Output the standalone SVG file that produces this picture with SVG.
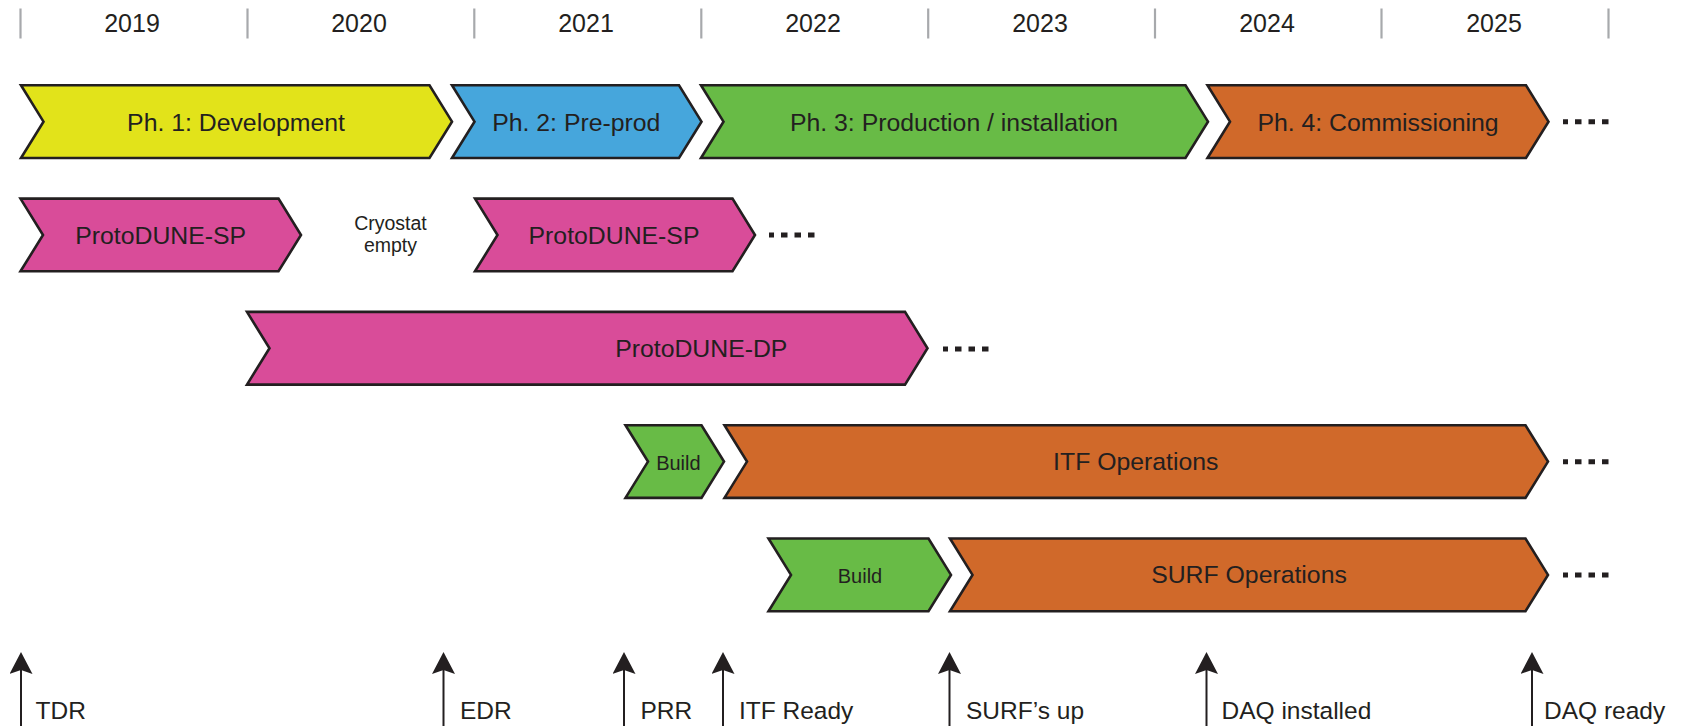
<svg xmlns="http://www.w3.org/2000/svg" width="1683" height="726" viewBox="0 0 1683 726">
  <style>
    text { font-family: "Liberation Sans", Arial, sans-serif; fill: #231f20; }
    .yr { font-size: 25px; text-anchor: middle; }
    .lbl { font-size: 24.8px; text-anchor: middle; }
    .sm { font-size: 20px; text-anchor: middle; }
    .cry { font-size: 19.5px; text-anchor: middle; }
    .ms { font-size: 24.5px; }
    .tick { stroke: #a7a9ac; stroke-width: 2.2; }
    .chev { stroke: #231f20; stroke-width: 2.6; stroke-linejoin: miter; }
    .yellow { fill: #e2e31a; }
    .blue { fill: #46a6dc; }
    .green { fill: #68bb46; }
    .orange { fill: #d0692a; }
    .pink { fill: #d94c99; }
    .dots { stroke: #231f20; stroke-width: 5; stroke-dasharray: 6.5 7; stroke-dashoffset: 1.5; fill: none; }
    .shaft { stroke: #231f20; stroke-width: 2; fill: none; marker-end: url(#head); }
  </style>
  <defs>
    <marker id="head" markerUnits="userSpaceOnUse" viewBox="0 0 22 23" markerWidth="22" markerHeight="23" refX="4" refY="11.5" orient="auto">
      <path d="M0,0 L22,11.5 L0,23 L4,11.5 z" fill="#231f20"/>
    </marker>
  </defs>

  <g id="timeline">
    <line class="tick" x1="20.5" y1="8.5" x2="20.5" y2="38.5"/>
    <line class="tick" x1="247.5" y1="8.5" x2="247.5" y2="38.5"/>
    <line class="tick" x1="474.3" y1="8.5" x2="474.3" y2="38.5"/>
    <line class="tick" x1="701.3" y1="8.5" x2="701.3" y2="38.5"/>
    <line class="tick" x1="928.2" y1="8.5" x2="928.2" y2="38.5"/>
    <line class="tick" x1="1155" y1="8.5" x2="1155" y2="38.5"/>
    <line class="tick" x1="1381.5" y1="8.5" x2="1381.5" y2="38.5"/>
    <line class="tick" x1="1608.5" y1="8.5" x2="1608.5" y2="38.5"/>
    <text class="yr" x="132" y="31.5">2019</text>
    <text class="yr" x="359" y="31.5">2020</text>
    <text class="yr" x="586" y="31.5">2021</text>
    <text class="yr" x="813" y="31.5">2022</text>
    <text class="yr" x="1040" y="31.5">2023</text>
    <text class="yr" x="1267" y="31.5">2024</text>
    <text class="yr" x="1494" y="31.5">2025</text>
  </g>

  <g id="ph1">
    <polygon class="chev yellow" points="21,85.3 429.5,85.3 452,121.65 429.5,158 21,158 43.5,121.65"/>
    <text class="lbl" x="236" y="130.5">Ph. 1: Development</text>
  </g>
  <g id="ph2">
    <polygon class="chev blue" points="452,85.3 679,85.3 701.5,121.65 679,158 452,158 474.5,121.65"/>
    <text class="lbl" x="576.3" y="130.5">Ph. 2: Pre-prod</text>
  </g>
  <g id="ph3">
    <polygon class="chev green" points="701,85.3 1185.5,85.3 1208,121.65 1185.5,158 701,158 723.5,121.65"/>
    <text class="lbl" x="954" y="130.5">Ph. 3: Production / installation</text>
  </g>
  <g id="ph4">
    <polygon class="chev orange" points="1207.5,85.3 1526,85.3 1548.5,121.65 1526,158 1207.5,158 1230,121.65"/>
    <text class="lbl" x="1378" y="130.5">Ph. 4: Commissioning</text>
  </g>

  <g id="pdsp1">
    <polygon class="chev pink" points="20.5,198.6 278.5,198.6 301,235 278.5,271.3 20.5,271.3 43,235"/>
    <text class="lbl" x="160.7" y="243.8">ProtoDUNE-SP</text>
  </g>
  <g id="cryostat">
    <text class="cry" x="390.5" y="229.5">Cryostat</text>
    <text class="cry" x="390.5" y="252">empty</text>
  </g>
  <g id="pdsp2">
    <polygon class="chev pink" points="475,198.6 732.5,198.6 755,235 732.5,271.3 475,271.3 497.5,235"/>
    <text class="lbl" x="614" y="243.8">ProtoDUNE-SP</text>
  </g>

  <g id="pddp">
    <polygon class="chev pink" points="247,311.9 905,311.9 927.5,348.3 905,384.6 247,384.6 269.5,348.3"/>
    <text class="lbl" x="701.3" y="357">ProtoDUNE-DP</text>
  </g>

  <g id="build1">
    <polygon class="chev green" points="625.5,425.2 701.5,425.2 724,461.6 701.5,497.9 625.5,497.9 648,461.6"/>
    <text class="sm" x="678.4" y="469.5">Build</text>
  </g>
  <g id="itfops">
    <polygon class="chev orange" points="724.5,425.2 1525.5,425.2 1548,461.6 1525.5,497.9 724.5,497.9 747,461.6"/>
    <text class="lbl" x="1135.8" y="470.4">ITF Operations</text>
  </g>

  <g id="build2">
    <polygon class="chev green" points="768.5,538.5 928.5,538.5 951,574.9 928.5,611.2 768.5,611.2 791,574.9"/>
    <text class="sm" x="860" y="582.5">Build</text>
  </g>
  <g id="surfops">
    <polygon class="chev orange" points="950,538.5 1525.5,538.5 1548,574.9 1525.5,611.2 950,611.2 972.5,574.9"/>
    <text class="lbl" x="1249" y="583.4">SURF Operations</text>
  </g>

  <g id="continuations">
    <line class="dots" x1="1563" y1="121.7" x2="1608.5" y2="121.7"/>
    <line class="dots" x1="769" y1="235" x2="814.5" y2="235"/>
    <line class="dots" x1="943" y1="349" x2="988.5" y2="349"/>
    <line class="dots" x1="1563" y1="461.7" x2="1608.5" y2="461.7"/>
    <line class="dots" x1="1563" y1="575" x2="1608.5" y2="575"/>
  </g>

  <g id="connectors">
    <line class="shaft" x1="21" y1="726" x2="21" y2="670"/>
    <line class="shaft" x1="443.5" y1="726" x2="443.5" y2="670"/>
    <line class="shaft" x1="624" y1="726" x2="624" y2="670"/>
    <line class="shaft" x1="723" y1="726" x2="723" y2="670"/>
    <line class="shaft" x1="949.5" y1="726" x2="949.5" y2="670"/>
    <line class="shaft" x1="1206.5" y1="726" x2="1206.5" y2="670"/>
    <line class="shaft" x1="1532" y1="726" x2="1532" y2="670"/>
  </g>

  <g id="milestones">
    <text class="ms" x="35.5" y="718.5">TDR</text>
    <text class="ms" x="460" y="718.5">EDR</text>
    <text class="ms" x="640.5" y="718.5">PRR</text>
    <text class="ms" x="739" y="718.5">ITF Ready</text>
    <text class="ms" x="966" y="718.5">SURF’s up</text>
    <text class="ms" x="1221.5" y="718.5">DAQ installed</text>
    <text class="ms" x="1544" y="718.5">DAQ ready</text>
  </g>
</svg>
